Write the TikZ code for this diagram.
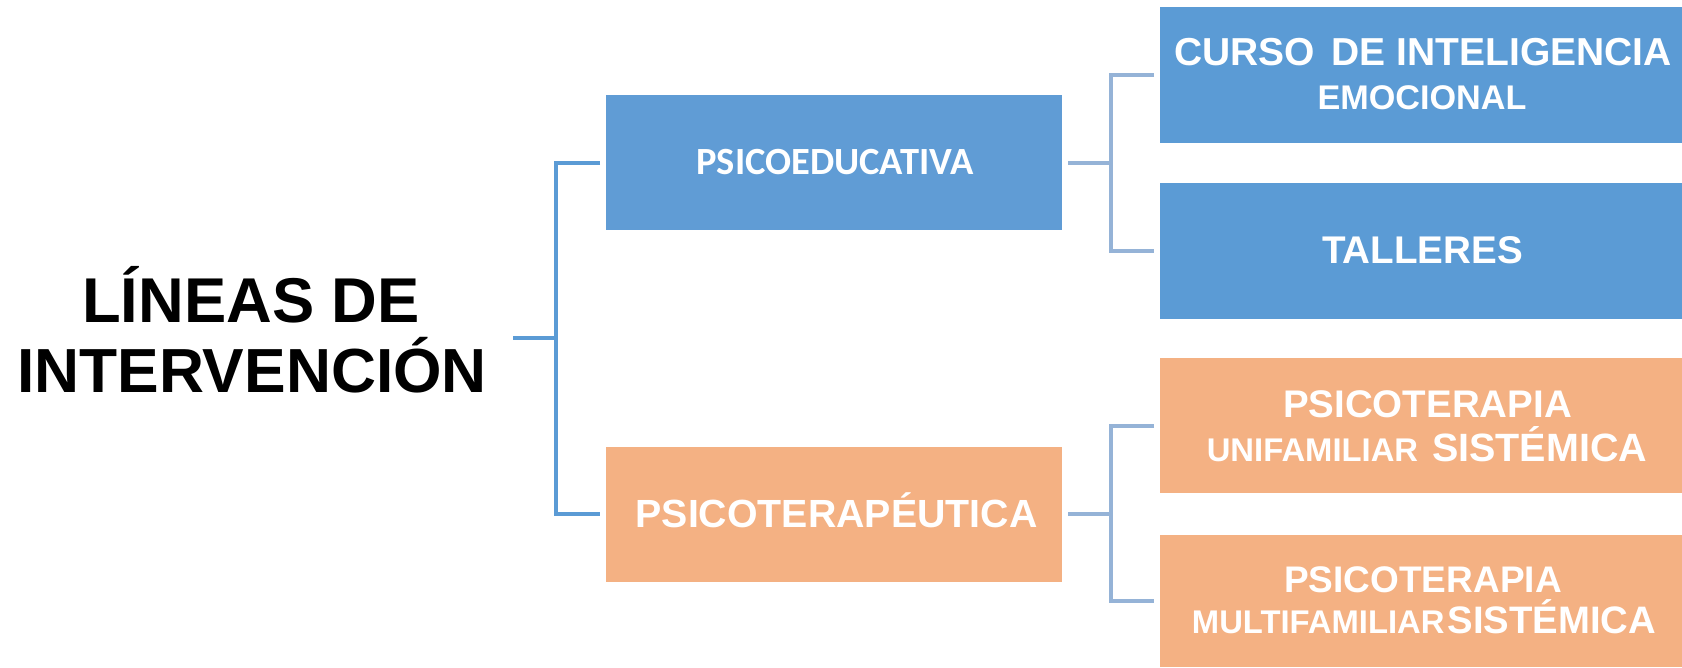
\documentclass[tikz,border=0pt]{standalone}
\usepackage{fontspec}
\setmainfont{Liberation Sans}
\newfontfamily\calibrifont{Carlito}
\definecolor{boxblue}{HTML}{5B9BD5}
\definecolor{boxblueA}{HTML}{609CD5}
\definecolor{boxorange}{HTML}{F4B183}
\definecolor{lineA}{HTML}{5B9BD5}
\definecolor{lineB}{HTML}{95B3D7}
\tikzset{
  box/.style={rectangle, inner sep=0pt, outer sep=0pt, draw=none},
  bluebox/.style={box, fill=boxblue},
  blueboxA/.style={box, fill=boxblueA},
  orangebox/.style={box, fill=boxorange},
  lbl/.style={anchor=base, inner sep=0pt, outer sep=0pt, text=white, font=\bfseries},
  conA/.style={draw=lineA, line width=4pt},
  conB/.style={draw=lineB, line width=4pt},
}
\newcommand{\fsz}[1]{\fontsize{#1}{#1}\selectfont}
\begin{document}
\begin{tikzpicture}[x=1pt,y=-1pt]
\useasboundingbox (0,0) rectangle (1682,667);
% boxes
\node[blueboxA, minimum width=456pt, minimum height=135pt] (pe) at (834,162.5) {};
\node[orangebox, minimum width=456pt, minimum height=135pt] (pt) at (834,514) {};
\node[bluebox, minimum width=522pt, minimum height=136pt] (cu) at (1421,75) {};
\node[bluebox, minimum width=522pt, minimum height=136pt] (ta) at (1421,251) {};
\node[orangebox, minimum width=522pt, minimum height=135pt] (un) at (1421,425.5) {};
\node[orangebox, minimum width=522pt, minimum height=132pt] (mu) at (1421,601) {};
% title
\node[lbl, text=black] (t1) at (251,322) {\fsz{63.3}LÍNEAS DE};
\node[lbl, text=black] (t2) at (252,392) {\fsz{62.3}INTERVENCIÓN};
% labels
\node[lbl] (lpe) at (835,174.5) {\calibrifont\fsz{38.5}PSICOEDUCATIVA};
\node[lbl] (lpt) at (836.5,527) {\fsz{39.3}PSICOTERAPÉUTICA};
\node[lbl] (lcu1) at (1423,65) {\fsz{39}CURSO\hspace{6pt} DE INTELIGENCIA};
\node[lbl] (lcu2) at (1422,109) {\fsz{34.2}EMOCIONAL};
\node[lbl] (lta) at (1422.5,263) {\fsz{38.6}TALLERES};
\node[lbl] (lun1) at (1427.5,417) {\fsz{38.5}PSICOTERAPIA};
\node[lbl] (lun2) at (1427,461) {\fsz{32.8}UNIFAMILIAR\hspace{14pt}\fsz{39.5}SISTÉMICA};
\node[lbl] (lmu1) at (1423,592) {\fsz{37}PSICOTERAPIA};
\node[lbl] (lmu2) at (1424,633) {\fsz{32.8}MULTIFAMILIAR\hspace{3pt}\fsz{38.3}SISTÉMICA};
% connectors level 1
\coordinate (tc) at (513,338);
\coordinate (j1) at (556,338);
\draw[conA] (tc) -- (j1);
\draw[conA] ([xshift=-6pt]pe.west) -| (j1) |- ([xshift=-6pt]pt.west);
% connectors level 2
\coordinate (j2) at (1111,162.5);
\draw[conB] ([xshift=6pt]pe.east) -- (j2);
\draw[conB] ([xshift=-6pt]cu.west) -| (j2) |- ([xshift=-6pt]ta.west);
\coordinate (j3) at (1111,514);
\draw[conB] ([xshift=6pt]pt.east) -- (j3);
\draw[conB] ([xshift=-6pt]un.west) -| (j3) |- ([xshift=-6pt]mu.west);
\end{tikzpicture}
\end{document}
